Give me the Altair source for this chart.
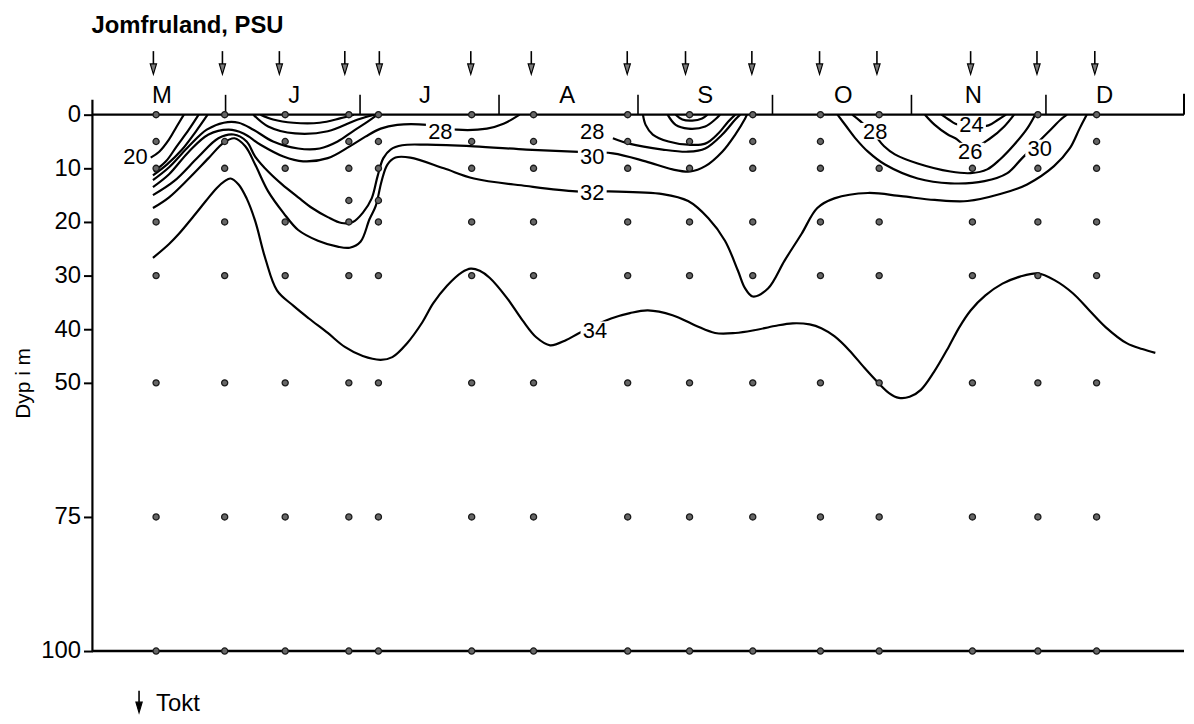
import altair as alt
import pandas as pd

FONT = "Liberation Sans"

# ---- axes (x = day of year, y = depth in metres) ----
X_MIN, X_MAX = 122.3, 365.8
depth_ticks = [0, 10, 20, 30, 40, 50, 75, 100]

months = ["M", "J", "J", "A", "S", "O", "N", "D"]
month_label_day = [137.8, 167.3, 196.5, 228.2, 259.0, 289.8, 318.8, 348.1]
month_start_day = [152, 182, 213, 244, 274, 305, 335]

# cruises (Tokt) and sampling stations
tokt_day = [135.9, 151.3, 164.0, 178.6, 186.3, 206.7, 220.2, 241.6, 254.6,
            269.4, 284.5, 297.3, 318.2, 333.0, 345.9]
station_day = [136.5, 151.8, 165.3, 179.5, 186.1, 206.9, 220.7, 241.7, 255.5,
               269.6, 284.7, 297.8, 318.6, 333.2, 346.3]
sample_depths = [0, 5, 10, 20, 30, 50, 75, 100]
extra_samples = {179.5: [16], 186.1: [16]}
hidden_samples = {297.8: [5], 318.6: [0, 5], 333.2: [5]}

# ---- isohalines (PSU) ----
iso20_day = [135.3, 137.2, 139.4, 141.1, 142.7]
iso20_depth = [8.0, 6.9, 4.6, 2.2, 0.0]
iso22_day = [136.0, 138.7, 141.1, 143.8, 146.0]
iso22_depth = [10.6, 8.7, 5.9, 2.8, 0.0]
iso24_day = [135.8, 138.9, 142.3, 145.4, 148.0]
iso24_depth = [11.3, 9.3, 6.5, 3.1, 0.0]
iso26_day = [135.8, 139.4, 143.8, 147.8, 151.6, 154.9, 158.2, 162.6, 168.2,
             173.0, 177.0, 180.4, 183.7, 185.9]
iso26_depth = [12.2, 9.8, 5.9, 2.8, 1.5, 1.5, 2.8, 5.0, 6.3, 6.3, 5.0, 3.1, 1.3, 0.0]
iso28a_day = [135.8, 139.4, 143.8, 148.2, 152.7, 156.0, 159.8, 164.9, 169.3,
              174.8, 179.7, 183.2, 186.6, 190.3, 197.0, 203.6, 210.3, 214.0, 217.6]
iso28a_depth = [13.5, 11.1, 6.9, 3.7, 2.8, 3.5, 5.6, 7.8, 8.7, 8.1, 5.9, 4.1,
                2.6, 1.9, 1.9, 2.8, 2.6, 1.7, 0.0]
iso30a_day = [135.8, 140.5, 146.0, 150.4, 153.8, 156.7, 158.6, 161.5, 164.6,
              168.2, 171.3, 174.8, 177.9, 180.4, 182.6, 184.6, 185.9, 187.2,
              188.8, 191.4, 197.0, 207.4, 219.1, 229.5, 238.4, 245.7, 251.7,
              255.7, 259.0, 262.8, 265.7, 267.9, 268.3]
iso30a_depth = [15.0, 12.4, 7.8, 4.4, 3.7, 5.0, 7.8, 10.6, 13.0, 15.4, 17.4,
                19.1, 20.2, 20.0, 18.3, 15.6, 11.5, 8.1, 6.5, 5.7, 5.6, 5.9,
                6.5, 6.9, 7.2, 8.7, 10.2, 10.6, 9.6, 6.9, 3.7, 0.7, 0.0]
iso32_day = [135.8, 139.4, 143.8, 148.2, 151.6, 154.0, 156.4, 158.6, 161.5,
             164.9, 168.2, 172.6, 177.0, 179.7, 182.1, 184.1, 185.5, 186.8,
             188.1, 189.9, 193.2, 200.7, 207.4, 219.1, 230.2, 237.5, 249.5,
             255.2, 259.7, 263.4, 266.3, 267.9, 269.6, 273.0, 276.7, 280.5,
             284.0, 287.8, 295.3, 302.7, 310.2, 317.5, 324.8, 330.8, 336.8,
             340.3, 342.5, 344.1]
iso32_depth = [17.4, 15.4, 11.9, 8.1, 5.2, 4.4, 5.9, 9.3, 14.3, 18.3, 21.5,
               23.5, 24.6, 24.8, 23.7, 19.5, 17.0, 12.4, 9.3, 8.0, 8.0, 10.0,
               11.9, 13.3, 14.3, 14.3, 14.8, 16.1, 19.3, 23.5, 29.1, 32.4,
               33.9, 32.4, 27.2, 22.2, 17.4, 15.6, 14.6, 15.2, 15.9, 16.1,
               14.8, 13.0, 9.6, 6.3, 2.6, 0.0]
iso34_day = [135.8, 139.4, 141.6, 144.9, 147.6, 150.0, 151.8, 153.1, 154.9,
             156.7, 158.6, 160.9, 163.5, 167.1, 170.6, 174.8, 178.6, 182.6,
             186.6, 189.2, 192.5, 195.9, 198.3, 201.4, 204.7, 206.7, 208.7,
             210.9, 214.7, 218.2, 221.3, 224.4, 228.0, 230.9, 238.0, 242.2,
             246.2, 251.7, 256.8, 261.2, 265.7, 269.9, 274.5, 278.5, 282.3,
             284.9, 287.8, 291.1, 294.5, 297.6, 300.0, 302.2, 304.6, 307.1,
             310.0, 313.3, 315.7, 318.2, 321.5, 325.3, 329.2, 333.2, 337.0,
             341.0, 344.7, 348.3, 353.0, 356.5, 359.4]
iso34_depth = [26.7, 24.1, 22.2, 18.9, 16.1, 13.7, 12.4, 11.9, 13.0, 15.6,
               19.8, 26.9, 32.8, 35.6, 38.0, 40.7, 43.3, 45.0, 45.7, 45.2,
               42.6, 38.7, 35.2, 31.9, 29.4, 28.7, 29.1, 30.4, 34.1, 38.3,
               41.5, 43.0, 42.0, 40.7, 38.0, 37.0, 36.5, 37.4, 39.3, 40.7,
               40.7, 40.2, 39.4, 38.9, 39.1, 39.8, 41.3, 43.9, 47.2, 50.0,
               51.9, 52.8, 52.6, 51.3, 48.0, 43.3, 39.6, 36.5, 33.7, 31.5,
               30.2, 29.6, 30.9, 33.3, 36.5, 39.6, 42.6, 43.7, 44.4]
lensA_day = [159.8, 162.6, 167.1, 173.0, 177.5, 180.6]
lensA_depth = [0.0, 0.9, 1.5, 1.5, 0.7, 0.0]
lensB_day = [158.2, 161.5, 167.5, 174.8, 181.5, 185.2]
lensB_depth = [0.0, 2.2, 3.5, 3.1, 0.9, 0.0]
sep3_day = [252.4, 253.9, 256.1, 258.3, 259.5]
sep3_depth = [0.0, 0.9, 1.1, 0.7, 0.0]
sep2_day = [250.6, 252.4, 255.2, 259.0, 261.2, 262.3]
sep2_depth = [0.0, 1.9, 2.6, 2.2, 0.9, 0.0]
sep1_day = [245.1, 245.7, 247.3, 250.8, 255.2, 259.0, 261.9, 264.1, 265.7]
sep1_depth = [0.0, 1.9, 3.7, 5.0, 5.6, 5.4, 3.5, 1.3, 0.0]
iso28s_day = [238.4, 242.0, 249.5, 255.2, 259.0, 262.8, 265.7, 266.8]
iso28s_depth = [4.4, 5.4, 6.5, 6.9, 6.3, 3.7, 0.9, 0.0]
iso30n_day = [288.5, 290.5, 292.7, 295.3, 299.1, 306.4, 313.7, 321.3, 326.4,
              329.7, 335.7, 338.3, 339.7]
iso30n_depth = [0.0, 2.2, 4.6, 6.9, 9.3, 11.9, 12.8, 12.4, 10.9, 8.1, 3.1, 0.9, 0.0]
iso28n_day = [291.8, 294.0, 296.7, 298.9, 301.3, 306.4, 313.7, 318.2, 321.9,
              324.8, 327.9, 330.8, 332.6]
iso28n_depth = [0.0, 1.5, 3.7, 5.9, 7.4, 9.1, 10.6, 10.9, 10.2, 8.3, 5.6, 2.6, 0.0]
iso26n_day = [308.0, 310.2, 313.1, 314.8, 318.2, 322.6, 325.7, 327.9]
iso26n_depth = [0.0, 1.9, 3.7, 4.4, 6.3, 4.4, 2.2, 0.0]
iso24n_day = [311.7, 313.3, 314.8, 318.4, 322.2, 324.4, 326.1]
iso24n_depth = [0.0, 0.9, 1.7, 2.2, 2.0, 0.9, 0.0]

# contour labels (centre positions)
label_text = ["20", "28", "28", "30", "32", "34", "28", "24", "26", "30"]
label_day = [131.9, 199.9, 233.8, 233.8, 233.8, 234.4, 296.9, 318.4, 318.1, 333.6]
label_depth = [7.7, 3.1, 3.1, 7.7, 14.5, 40.1, 3.1, 1.8, 6.8, 6.2]

# ---- build tables ----
iso_lines = {
    "20": (iso20_day, iso20_depth), "22": (iso22_day, iso22_depth),
    "24": (iso24_day, iso24_depth), "26": (iso26_day, iso26_depth),
    "28a": (iso28a_day, iso28a_depth), "30a": (iso30a_day, iso30a_depth),
    "32": (iso32_day, iso32_depth), "34": (iso34_day, iso34_depth),
    "lensA": (lensA_day, lensA_depth), "lensB": (lensB_day, lensB_depth),
    "sep3": (sep3_day, sep3_depth), "sep2": (sep2_day, sep2_depth),
    "sep1": (sep1_day, sep1_depth), "28s": (iso28s_day, iso28s_depth),
    "30n": (iso30n_day, iso30n_depth), "28n": (iso28n_day, iso28n_depth),
    "26n": (iso26n_day, iso26n_depth), "24n": (iso24n_day, iso24n_depth),
}
line_rows = []
for name, (ds, zs) in iso_lines.items():
    for i, (d, z) in enumerate(zip(ds, zs)):
        line_rows.append({"line": name, "idx": i, "day": d, "depth": z})
lines_df = pd.DataFrame(line_rows)

dot_rows = []
for d in station_day:
    depths = sorted(set(sample_depths + extra_samples.get(d, [])))
    for z in depths:
        if z in hidden_samples.get(d, []):
            continue
        dot_rows.append({"day": d, "depth": z})
dots_df = pd.DataFrame(dot_rows)

frame_rows = [
    {"x1": X_MIN, "x2": X_MAX, "y1": 0, "y2": 0, "w": 2.4},
    {"x1": X_MIN, "x2": X_MAX, "y1": 100, "y2": 100, "w": 2.4},
    {"x1": X_MIN, "x2": X_MIN, "y1": -2.8, "y2": 100, "w": 2.2},
    {"x1": X_MAX, "x2": X_MAX, "y1": -3.9, "y2": 0, "w": 2.0},
]
for d in month_start_day:
    frame_rows.append({"x1": d, "x2": d, "y1": -3.7, "y2": 0, "w": 1.6})
frame_df = pd.DataFrame(frame_rows)

legend_day, legend_text_day = 132.7, 136.5
shaft_df = pd.DataFrame(
    [{"day": d, "y1": -11.85, "y2": -9.3} for d in tokt_day]
    + [{"day": legend_day, "y1": 107.4, "y2": 109.6}])
head_df = pd.DataFrame(
    [{"day": d, "depth": -8.5, "f": "#7a7a7a"} for d in tokt_day]
    + [{"day": legend_day, "depth": 110.5, "f": "#000000"}])

labels_df = pd.DataFrame({"text": label_text, "day": label_day, "depth": label_depth})
labels_df["base"] = labels_df["depth"] + 1.5

months_df = pd.DataFrame({"text": months, "day": month_label_day, "depth": [-2.1] * len(months)})
misc_text_df = pd.DataFrame([
    {"text": "Jomfruland, PSU", "day": 122.1, "depth": -15.2},
])
tokt_df = pd.DataFrame([{"text": "Tokt", "day": legend_text_day, "depth": 111.1}])

# ---- encodings ----
XS = alt.Scale(domain=[X_MIN, X_MAX], nice=False, zero=False)
YS = alt.Scale(domain=[0, 100], reverse=True, nice=False, zero=False)
Y_AXIS = alt.Axis(values=depth_ticks, title="Dyp i m", labelFont=FONT,
                  labelFontSize=24, labelColor="black", labelPadding=3,
                  labelFlush=False, labelOverlap=False, tickColor="black",
                  tickWidth=2, tickSize=9, domain=False, grid=False,
                  titleFont=FONT, titleFontSize=21, titleFontWeight="normal",
                  titleColor="black", titlePadding=7)


def X(f):
    return alt.X(f"{f}:Q", scale=XS, axis=None)


def Y(f):
    return alt.Y(f"{f}:Q", scale=YS, axis=Y_AXIS)


lines = alt.Chart(lines_df).mark_line(
    interpolate="catmull-rom", color="black", strokeWidth=2.2, clip=True
).encode(x=X("day"), y=Y("depth"), detail="line:N", order="idx:Q")

frame = alt.Chart(frame_df).mark_rule(color="black").encode(
    x=X("x1"), x2="x2", y=Y("y1"), y2="y2",
    strokeWidth=alt.StrokeWidth("w:Q", scale=None))

dots = alt.Chart(dots_df).mark_point(
    filled=True, shape="circle", size=38, fill="#666666", stroke="#1a1a1a",
    strokeWidth=1.3, opacity=1
).encode(x=X("day"), y=Y("depth"))

shafts = alt.Chart(shaft_df).mark_rule(color="black", strokeWidth=1.6).encode(
    x=X("day"), y=Y("y1"), y2="y2")

heads = alt.Chart(head_df).mark_point(
    shape="M-0.6,-1L0,1L0.6,-1Z", size=110, filled=True, stroke="black",
    strokeWidth=1.2, opacity=1
).encode(x=X("day"), y=Y("depth"), fill=alt.Fill("f:N", scale=None))

boxes = alt.Chart(labels_df).mark_point(
    shape="M-1,-0.58L1,-0.58L1,0.58L-1,0.58Z", size=840, filled=True,
    fill="white", strokeOpacity=0, opacity=1
).encode(x=X("day"), y=Y("depth"))

label_txt = alt.Chart(labels_df).mark_text(
    font=FONT, fontSize=22, align="center", baseline="alphabetic", color="black"
).encode(x=X("day"), y=Y("base"), text="text:N")

month_txt = alt.Chart(months_df).mark_text(
    font=FONT, fontSize=24, align="center", baseline="alphabetic", color="black"
).encode(x=X("day"), y=Y("depth"), text="text:N")

title_txt = alt.Chart(misc_text_df).mark_text(
    font=FONT, fontSize=24, fontWeight="bold", align="left",
    baseline="alphabetic", color="black"
).encode(x=X("day"), y=Y("depth"), text="text:N")

tokt_txt = alt.Chart(tokt_df).mark_text(
    font=FONT, fontSize=24, align="left", baseline="alphabetic", color="black"
).encode(x=X("day"), y=Y("depth"), text="text:N")

chart = alt.layer(
    lines, frame, dots, shafts, heads, boxes, label_txt, month_txt,
    title_txt, tokt_txt
).properties(
    width=1099, height=540,
    autosize=alt.AutoSizeParams(type="none"),
    padding={"left": 85, "top": 105, "right": 2, "bottom": 63},
    background="white",
).configure_view(stroke=None)

chart.save("out.html", embed_options={"renderer": "svg", "actions": False})
